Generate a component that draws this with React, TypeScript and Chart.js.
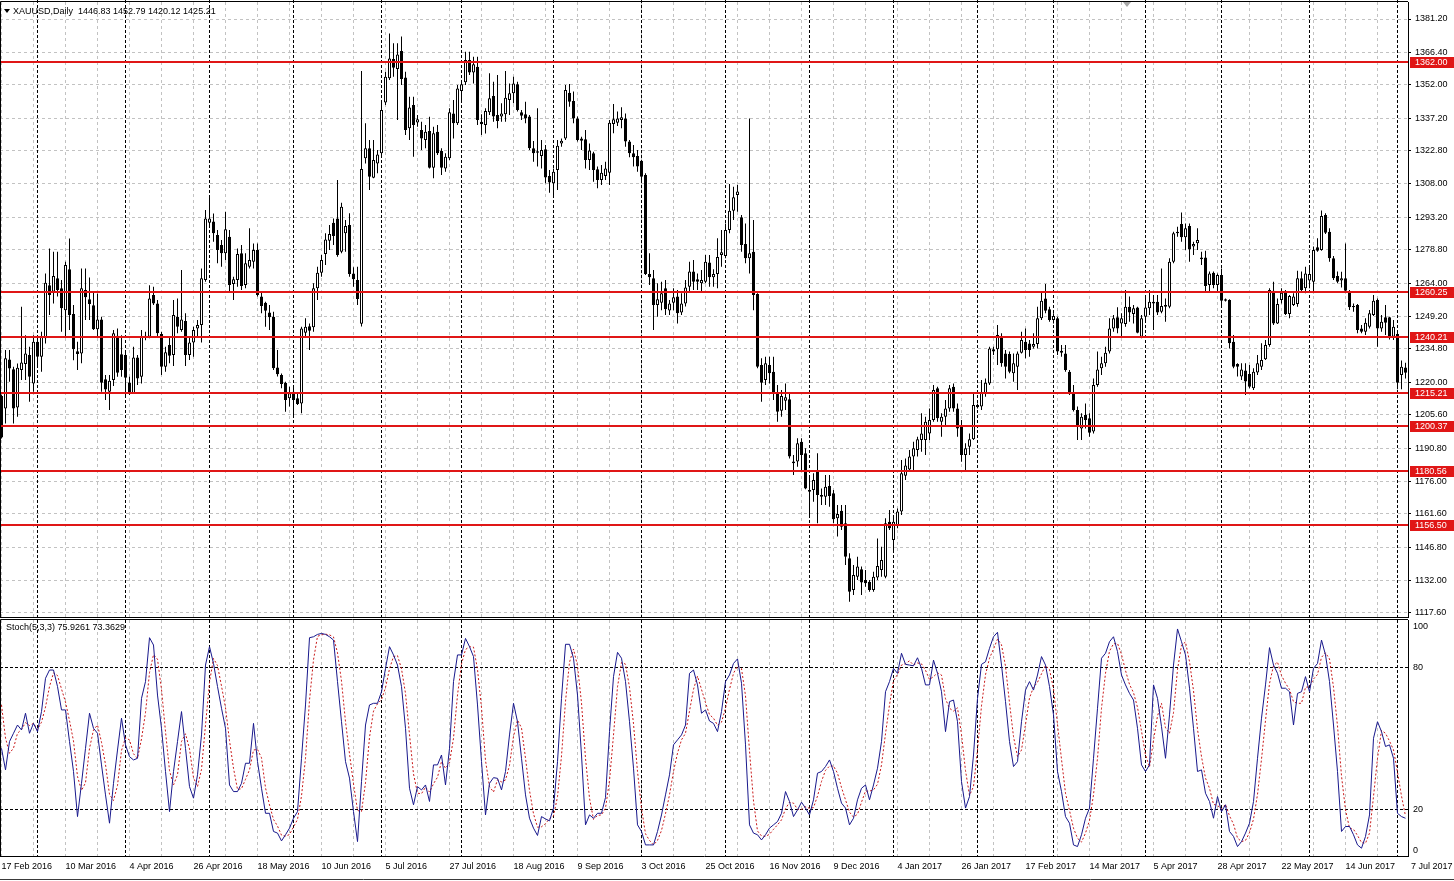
import React, { useEffect, useRef } from 'react';
import { Chart, registerables } from 'chart.js';

Chart.register(...registerables);

// ---------------- DATA ----------------
const opens = [
  1213.9, 1208.4, 1230.1, 1225.8, 1208.8, 1225.4, 1228.1, 1232.1, 1219.5, 1238.0,
  1231.3, 1239.5, 1263.1, 1260.2, 1266.1, 1261.7, 1252.0, 1270.2, 1250.3, 1233.8,
  1232.8, 1260.9, 1256.8, 1254.2, 1243.5, 1247.9, 1221.3, 1215.8, 1221.0, 1240.6,
  1232.4, 1232.1, 1219.9, 1215.1, 1231.0, 1222.4, 1240.6, 1240.2, 1258.7, 1255.0,
  1241.4, 1226.9, 1236.5, 1232.1, 1249.1, 1243.2, 1247.2, 1232.1, 1237.6, 1243.9,
  1245.4, 1265.4, 1290.8, 1291.3, 1285.3, 1280.9, 1277.2, 1284.6, 1263.6, 1265.4,
  1277.2, 1263.2, 1271.3, 1273.5, 1278.7, 1258.0, 1255.3, 1250.9, 1249.1, 1226.6,
  1223.2, 1219.8, 1212.9, 1215.8, 1212.9, 1210.6, 1242.0, 1244.9, 1244.4, 1261.7,
  1268.6, 1276.9, 1282.8, 1290.8, 1292.7, 1277.9, 1286.1, 1289.8, 1268.3, 1265.4,
  1246.0, 1319.4, 1323.8, 1310.8, 1317.1, 1321.6, 1344.2, 1354.9, 1363.4, 1359.0,
  1367.0, 1355.2, 1332.7, 1343.0, 1335.3, 1331.9, 1327.5, 1331.5, 1315.2, 1331.2,
  1322.6, 1314.9, 1319.4, 1339.3, 1334.9, 1349.2, 1353.1, 1363.0, 1357.5, 1360.0,
  1335.6, 1334.2, 1339.8, 1347.0, 1338.6, 1337.9, 1338.9, 1345.3, 1348.2, 1352.2,
  1339.8, 1338.9, 1337.9, 1323.8, 1321.9, 1320.4, 1323.4, 1311.5, 1308.3, 1314.2,
  1326.0, 1328.2, 1348.5, 1344.8, 1337.1, 1328.2, 1327.8, 1318.6, 1321.6, 1314.5,
  1309.8, 1311.5, 1313.0, 1334.6, 1335.2, 1336.4, 1337.1, 1326.8, 1321.6, 1320.4,
  1318.3, 1312.0, 1268.0, 1266.1, 1254.3, 1255.3, 1261.7, 1251.8, 1255.3, 1258.0,
  1250.9, 1255.0, 1262.4, 1269.1, 1265.7, 1263.9, 1264.6, 1273.1, 1266.6, 1268.0,
  1276.5, 1276.0, 1287.6, 1296.1, 1303.1, 1293.2, 1281.3, 1275.0, 1277.9, 1259.2,
  1227.6, 1221.0, 1227.6, 1224.7, 1215.1, 1207.4, 1211.8, 1212.4, 1184.8, 1184.8,
  1193.6, 1188.5, 1172.2, 1172.2, 1180.7, 1170.0, 1169.2, 1174.0, 1170.7, 1159.6,
  1163.0, 1157.4, 1141.9, 1127.8, 1133.7, 1137.0, 1132.2, 1131.5, 1127.8, 1133.4,
  1136.7, 1133.7, 1158.1, 1150.0, 1156.6, 1162.6, 1178.5, 1181.3, 1187.0, 1189.9,
  1194.4, 1194.4, 1197.3, 1203.2, 1217.3, 1202.5, 1204.7, 1208.4, 1218.0, 1208.4,
  1201.0, 1187.7, 1191.4, 1194.7, 1209.9, 1209.2, 1215.1, 1219.5, 1234.6, 1234.6,
  1240.2, 1232.8, 1232.5, 1224.0, 1226.9, 1233.1, 1238.0, 1237.2, 1235.8, 1237.0,
  1248.4, 1257.2, 1252.4, 1247.6, 1248.4, 1234.0, 1232.8, 1224.7, 1215.1, 1207.7,
  1199.5, 1205.5, 1204.0, 1198.1, 1218.8, 1226.2, 1228.4, 1233.6, 1243.9, 1248.8,
  1246.1, 1245.8, 1253.5, 1250.3, 1253.2, 1240.2, 1249.1, 1252.8, 1255.0, 1255.7,
  1251.3, 1253.5, 1253.5, 1273.5, 1286.1, 1290.2, 1284.3, 1289.3, 1280.2, 1281.7,
  1275.4, 1275.4, 1263.2, 1268.6, 1263.2, 1267.6, 1256.8, 1256.5, 1238.0, 1228.1,
  1222.5, 1225.2, 1223.7, 1217.3, 1224.3, 1226.9, 1230.2, 1236.5, 1260.6, 1246.1,
  1256.5, 1259.7, 1250.3, 1254.3, 1254.7, 1266.1, 1261.7, 1265.1, 1264.6, 1279.9,
  1278.7, 1294.2, 1286.8, 1275.0, 1267.1, 1265.1, 1266.1, 1260.2, 1253.8, 1254.3,
  1243.9, 1242.4, 1244.6, 1249.8, 1256.5, 1243.9, 1248.8, 1248.8, 1240.2, 1241.4,
  1223.2, 1226.6,
];

const highs = [
  1214.5, 1234.3, 1234.3, 1226.9, 1228.3, 1253.5, 1240.9, 1235.8, 1240.9, 1240.2,
  1242.4, 1268.3, 1279.4, 1277.9, 1277.9, 1265.4, 1273.5, 1283.8, 1254.3, 1238.0,
  1270.5, 1270.5, 1266.5, 1259.7, 1259.4, 1249.1, 1223.2, 1223.2, 1243.2, 1243.9,
  1240.9, 1234.3, 1222.4, 1235.8, 1232.1, 1243.2, 1242.4, 1263.0, 1262.4, 1256.5,
  1242.4, 1235.8, 1240.2, 1256.5, 1257.2, 1269.8, 1250.6, 1240.2, 1244.6, 1247.6,
  1270.5, 1296.4, 1303.1, 1294.9, 1287.6, 1283.1, 1295.7, 1287.6, 1266.8, 1279.4,
  1280.9, 1277.2, 1288.3, 1281.6, 1281.6, 1260.2, 1255.7, 1254.3, 1251.3, 1234.3,
  1223.9, 1220.2, 1218.0, 1218.8, 1215.1, 1244.6, 1248.4, 1246.1, 1263.9, 1271.3,
  1276.5, 1286.1, 1289.8, 1292.7, 1309.8, 1299.7, 1292.0, 1295.0, 1271.0, 1271.3,
  1358.1, 1334.9, 1327.5, 1327.5, 1323.1, 1345.3, 1357.8, 1374.8, 1370.4, 1370.4,
  1373.4, 1357.8, 1346.7, 1346.7, 1338.6, 1335.6, 1334.2, 1337.8, 1333.4, 1334.2,
  1323.8, 1321.6, 1341.6, 1345.3, 1351.9, 1354.1, 1366.7, 1366.7, 1364.5, 1364.5,
  1338.9, 1341.6, 1357.1, 1353.4, 1356.3, 1343.8, 1358.1, 1352.6, 1355.6, 1353.4,
  1340.8, 1344.5, 1338.6, 1327.1, 1341.6, 1327.5, 1325.3, 1314.2, 1314.9, 1327.5,
  1328.2, 1351.9, 1352.4, 1349.0, 1337.9, 1329.0, 1331.9, 1326.0, 1322.3, 1315.7,
  1316.4, 1317.9, 1336.4, 1343.5, 1340.1, 1342.0, 1339.3, 1327.5, 1325.3, 1323.1,
  1318.6, 1312.7, 1277.2, 1269.8, 1263.9, 1264.6, 1265.4, 1256.5, 1261.7, 1260.9,
  1259.5, 1265.4, 1273.5, 1274.2, 1268.3, 1269.8, 1276.5, 1276.5, 1270.1, 1283.9,
  1287.6, 1290.5, 1308.0, 1306.8, 1307.5, 1294.2, 1290.5, 1337.1, 1292.0, 1259.5,
  1230.6, 1231.3, 1231.3, 1231.3, 1218.8, 1216.6, 1219.5, 1215.1, 1187.7, 1195.1,
  1195.1, 1190.7, 1178.8, 1179.6, 1188.5, 1172.9, 1178.8, 1178.8, 1172.2, 1165.5,
  1165.5, 1165.5, 1144.1, 1138.9, 1142.6, 1138.2, 1136.7, 1132.2, 1135.9, 1150.7,
  1147.0, 1159.6, 1163.3, 1161.1, 1164.0, 1185.5, 1186.2, 1189.9, 1193.6, 1195.8,
  1206.2, 1204.7, 1208.4, 1218.8, 1218.0, 1206.2, 1212.1, 1218.8, 1219.5, 1210.6,
  1203.2, 1192.9, 1197.3, 1215.1, 1210.6, 1221.0, 1221.7, 1235.8, 1235.8, 1245.4,
  1241.7, 1234.3, 1233.6, 1232.8, 1233.6, 1242.4, 1243.9, 1238.7, 1241.7, 1253.5,
  1260.2, 1263.6, 1253.5, 1250.6, 1249.1, 1236.5, 1236.5, 1225.4, 1218.8, 1209.2,
  1206.2, 1210.6, 1206.2, 1221.7, 1233.6, 1231.3, 1235.8, 1248.4, 1249.8, 1253.3,
  1250.6, 1260.9, 1258.0, 1254.3, 1253.5, 1249.8, 1258.7, 1260.9, 1258.7, 1258.7,
  1270.5, 1257.2, 1275.0, 1286.8, 1289.0, 1295.3, 1290.5, 1290.5, 1282.4, 1288.3,
  1277.9, 1278.4, 1269.1, 1269.1, 1268.3, 1270.5, 1257.2, 1256.8, 1241.0, 1228.4,
  1228.4, 1228.4, 1227.6, 1226.2, 1232.1, 1237.3, 1238.7, 1261.7, 1264.6, 1257.2,
  1261.7, 1260.9, 1258.7, 1259.5, 1269.5, 1269.1, 1271.3, 1271.3, 1280.2, 1283.9,
  1296.2, 1295.0, 1288.3, 1276.0, 1269.1, 1269.0, 1281.6, 1260.9, 1255.0, 1254.7,
  1245.4, 1248.4, 1252.1, 1258.7, 1257.2, 1249.8, 1254.3, 1249.1, 1247.6, 1242.0,
  1229.6, 1228.7,
];

const lows = [
  1195.0, 1201.7, 1220.2, 1201.7, 1204.7, 1221.0, 1221.0, 1211.4, 1215.8, 1226.9,
  1224.7, 1237.2, 1249.8, 1255.0, 1258.0, 1242.4, 1240.2, 1243.2, 1229.8, 1225.4,
  1228.4, 1247.6, 1247.6, 1243.2, 1240.2, 1215.8, 1212.1, 1207.7, 1218.3, 1222.4,
  1222.4, 1214.3, 1214.3, 1214.8, 1218.8, 1219.5, 1238.6, 1239.5, 1254.3, 1240.2,
  1223.2, 1224.7, 1228.4, 1227.2, 1241.7, 1242.4, 1227.2, 1229.9, 1231.3, 1240.2,
  1237.6, 1264.6, 1289.5, 1282.4, 1272.8, 1271.3, 1274.2, 1260.2, 1256.5, 1262.4,
  1260.9, 1261.7, 1270.5, 1270.5, 1258.0, 1250.6, 1244.6, 1243.2, 1225.4, 1222.5,
  1217.3, 1206.9, 1209.2, 1205.5, 1209.9, 1206.2, 1240.2, 1234.3, 1242.4, 1256.5,
  1266.8, 1272.0, 1278.7, 1280.9, 1275.7, 1277.2, 1277.9, 1266.8, 1262.4, 1254.3,
  1244.7, 1317.1, 1305.3, 1310.5, 1312.7, 1320.1, 1343.0, 1354.1, 1355.6, 1336.4,
  1351.9, 1329.7, 1327.5, 1320.1, 1333.4, 1323.1, 1323.8, 1314.9, 1310.5, 1320.8,
  1312.0, 1313.4, 1318.6, 1328.2, 1334.2, 1345.3, 1351.9, 1356.3, 1352.6, 1334.2,
  1329.7, 1330.4, 1338.6, 1335.6, 1332.7, 1335.6, 1335.6, 1338.6, 1343.8, 1340.1,
  1336.4, 1334.9, 1323.1, 1317.9, 1315.7, 1314.9, 1308.3, 1304.1, 1302.4, 1305.3,
  1324.5, 1327.5, 1342.3, 1334.9, 1326.8, 1323.1, 1314.9, 1314.2, 1309.0, 1306.1,
  1307.5, 1309.8, 1307.5, 1330.5, 1333.7, 1332.7, 1324.5, 1319.8, 1315.7, 1313.4,
  1309.8, 1267.6, 1263.2, 1243.2, 1249.1, 1252.0, 1249.8, 1249.8, 1252.0, 1246.1,
  1249.8, 1253.6, 1260.2, 1260.9, 1260.9, 1260.2, 1263.9, 1262.4, 1262.4, 1261.7,
  1271.3, 1275.0, 1286.1, 1292.0, 1295.7, 1277.9, 1272.8, 1268.3, 1252.0, 1226.2,
  1211.4, 1218.8, 1219.5, 1212.1, 1202.5, 1204.7, 1207.7, 1186.2, 1178.8, 1182.5,
  1181.0, 1172.5, 1160.3, 1167.0, 1157.4, 1165.5, 1165.5, 1164.8, 1157.4, 1151.5,
  1154.4, 1138.9, 1122.6, 1125.6, 1132.2, 1125.6, 1129.3, 1127.0, 1127.0, 1132.2,
  1133.7, 1133.0, 1154.4, 1144.8, 1155.2, 1161.1, 1176.6, 1181.0, 1181.0, 1187.0,
  1189.2, 1187.7, 1194.4, 1202.5, 1202.5, 1195.8, 1200.3, 1206.9, 1206.9, 1195.8,
  1184.7, 1181.0, 1187.7, 1194.4, 1208.4, 1207.7, 1213.6, 1218.8, 1232.1, 1227.6,
  1226.9, 1221.7, 1224.0, 1220.2, 1216.6, 1232.8, 1230.6, 1231.3, 1235.0, 1235.0,
  1247.6, 1250.6, 1246.9, 1246.1, 1232.1, 1231.3, 1224.7, 1214.3, 1207.0, 1194.4,
  1194.4, 1199.5, 1195.8, 1197.3, 1218.0, 1223.2, 1226.9, 1232.8, 1242.4, 1241.7,
  1240.5, 1244.6, 1246.9, 1246.1, 1241.7, 1239.5, 1247.6, 1249.8, 1243.2, 1249.8,
  1250.6, 1246.9, 1252.8, 1272.8, 1284.6, 1282.4, 1278.7, 1273.5, 1276.5, 1278.7,
  1272.0, 1260.2, 1260.2, 1261.7, 1260.2, 1253.8, 1255.8, 1235.0, 1226.2, 1222.5,
  1221.0, 1214.3, 1217.3, 1216.6, 1223.2, 1225.4, 1229.9, 1235.8, 1245.4, 1245.8,
  1255.0, 1249.8, 1248.4, 1253.8, 1253.5, 1260.2, 1259.5, 1261.7, 1259.5, 1277.9,
  1278.4, 1285.8, 1273.5, 1265.4, 1263.9, 1262.0, 1259.5, 1252.1, 1251.3, 1241.7,
  1241.7, 1241.0, 1243.9, 1249.4, 1235.8, 1242.4, 1241.0, 1239.0, 1238.7, 1216.9,
  1216.9, 1221.7,
];

const closes = [
  1195.5, 1230.6, 1226.1, 1208.4, 1226.4, 1228.8, 1232.8, 1222.4, 1238.0, 1231.3,
  1240.2, 1264.2, 1258.7, 1267.1, 1260.9, 1252.8, 1272.0, 1249.8, 1234.6, 1232.5,
  1261.7, 1257.7, 1254.7, 1243.5, 1247.9, 1219.8, 1216.8, 1220.7, 1241.7, 1224.2,
  1225.4, 1222.0, 1215.1, 1231.0, 1221.7, 1240.2, 1239.8, 1257.2, 1255.0, 1241.7,
  1226.9, 1233.3, 1231.8, 1249.8, 1244.6, 1247.9, 1232.1, 1237.6, 1243.2, 1245.4,
  1266.1, 1292.7, 1292.7, 1286.1, 1278.7, 1277.2, 1287.9, 1263.2, 1265.7, 1276.9,
  1262.7, 1272.8, 1274.2, 1278.7, 1258.7, 1253.8, 1251.7, 1248.8, 1226.2, 1223.6,
  1219.2, 1212.1, 1215.1, 1212.1, 1210.3, 1243.9, 1244.6, 1242.9, 1261.7, 1268.6,
  1274.2, 1283.4, 1285.8, 1284.9, 1276.5, 1297.9, 1289.3, 1268.0, 1265.7, 1257.0,
  1314.6, 1323.8, 1311.2, 1318.6, 1321.1, 1340.8, 1355.6, 1363.7, 1359.6, 1365.5,
  1354.6, 1331.9, 1341.9, 1334.2, 1336.7, 1328.2, 1331.2, 1315.2, 1330.5, 1321.6,
  1315.2, 1320.1, 1339.8, 1334.9, 1350.4, 1352.2, 1363.0, 1357.5, 1361.1, 1336.4,
  1334.5, 1340.4, 1346.0, 1337.9, 1335.9, 1339.3, 1346.3, 1348.2, 1352.6, 1340.8,
  1338.3, 1337.1, 1323.8, 1321.6, 1322.5, 1323.1, 1310.9, 1308.6, 1313.4, 1324.9,
  1327.2, 1349.7, 1344.5, 1337.1, 1327.5, 1327.2, 1318.6, 1322.8, 1314.2, 1309.8,
  1313.0, 1314.9, 1335.2, 1336.7, 1337.1, 1337.6, 1326.8, 1321.6, 1319.8, 1315.7,
  1311.2, 1268.0, 1266.6, 1254.3, 1256.8, 1259.5, 1252.4, 1255.0, 1257.7, 1250.6,
  1255.0, 1262.1, 1269.1, 1264.6, 1264.6, 1265.4, 1273.5, 1266.6, 1268.0, 1275.6,
  1277.7, 1287.6, 1296.1, 1302.1, 1304.6, 1280.9, 1275.0, 1277.2, 1258.7, 1226.9,
  1219.8, 1228.4, 1224.0, 1215.1, 1206.9, 1213.9, 1213.3, 1187.0, 1184.0, 1192.9,
  1187.7, 1172.9, 1171.4, 1176.6, 1170.0, 1169.2, 1173.6, 1169.5, 1159.2, 1161.5,
  1155.9, 1142.6, 1127.0, 1134.5, 1138.2, 1131.1, 1130.8, 1127.8, 1133.7, 1138.5,
  1141.1, 1157.4, 1155.2, 1158.1, 1162.6, 1179.6, 1183.0, 1187.0, 1190.7, 1194.7,
  1197.3, 1202.5, 1203.2, 1216.6, 1204.0, 1204.7, 1208.4, 1217.3, 1208.4, 1199.5,
  1187.7, 1190.7, 1194.7, 1209.9, 1208.9, 1215.4, 1219.8, 1235.0, 1233.6, 1241.0,
  1228.4, 1226.9, 1224.7, 1228.4, 1232.8, 1238.7, 1234.3, 1234.3, 1237.0, 1248.4,
  1256.2, 1251.7, 1247.6, 1249.4, 1233.6, 1233.1, 1225.4, 1214.8, 1207.7, 1200.8,
  1204.7, 1203.2, 1197.6, 1218.8, 1225.7, 1228.4, 1233.1, 1243.9, 1248.4, 1243.9,
  1248.4, 1253.5, 1250.9, 1252.8, 1242.0, 1248.4, 1253.2, 1255.7, 1255.7, 1250.9,
  1253.8, 1254.3, 1273.5, 1286.1, 1286.8, 1284.3, 1288.3, 1279.0, 1281.4, 1283.1,
  1274.6, 1262.7, 1268.3, 1263.2, 1267.6, 1256.2, 1256.2, 1237.3, 1226.9, 1226.9,
  1225.7, 1220.3, 1218.0, 1224.7, 1228.4, 1229.9, 1236.5, 1260.9, 1246.1, 1254.7,
  1259.7, 1250.3, 1258.3, 1258.0, 1266.1, 1260.9, 1268.3, 1268.0, 1278.7, 1278.4,
  1293.8, 1286.4, 1275.0, 1266.1, 1264.6, 1266.1, 1260.6, 1253.3, 1253.3, 1243.2,
  1242.4, 1246.4, 1250.6, 1256.2, 1243.9, 1246.9, 1246.4, 1240.2, 1244.6, 1219.8,
  1226.9, 1224.2,
];

const stochMain = [
  45.6, 36.5, 48.5, 52, 55.5, 53.4, 60.5, 52, 56.2, 52.7,
  61.2, 75.3, 78.8, 78.8, 71.8, 61.9, 61.9, 48.5, 35.8, 16.7,
  30.8, 45.6, 60.5, 54.1, 52, 38.6, 25.9, 13.9, 30.8, 44.9,
  58.4, 47.1, 42.1, 40.7, 41.4, 66.8, 73.9, 92.5, 89.4, 68.2,
  54.1, 35.8, 18.8, 35.8, 48.5, 61.2, 45.6, 29.4, 24.5, 34.4,
  51.3, 80.9, 88.7, 81.6, 71.8, 62.6, 54.1, 30.1, 27.3, 27.3,
  30.8, 39.3, 39.3, 56.2, 40, 28.7, 18.1, 18.1, 10.4, 9.7,
  6.4, 9, 11.8, 16, 18.8, 41.4, 64, 92.5, 92.9, 93.9,
  94.3, 93.9, 92.9, 91.5, 73.9, 56.9, 40, 33, 18.8, 6.1,
  31.5, 55.5, 64, 64.7, 64.7, 69.6, 79.5, 88.7, 85.2, 80.9,
  71.8, 54.1, 28.7, 21.7, 29.4, 28, 30.1, 23.1, 38.6, 38.6,
  42.8, 30.1, 45.6, 73.9, 85.2, 85.2, 92.2, 88.7, 84.5, 64,
  40, 17.4, 30.8, 33.2, 32.9, 28, 35.8, 51.3, 64.7, 56.9,
  41.4, 25.9, 16, 11.8, 8.7, 16.7, 15.7, 14.9, 20.3, 40,
  66.8, 89.7, 89.7, 83.8, 68.2, 42.8, 13.2, 17.4, 16, 18.1,
  18.1, 24.8, 52.7, 76, 86.3, 83.8, 73.9, 56.9, 37.2, 13.2,
  10.4, 4.7, 4.7, 4.7, 10.4, 17.4, 25.9, 34.4, 47.1, 49.2,
  51.3, 55.5, 77.4, 78.8, 72.5, 60.5, 61.9, 57.2, 56.2, 52.7,
  61.2, 73.9, 76.7, 81.6, 83.5, 73.2, 47.1, 13.2, 9.7, 9,
  6.8, 9, 11.8, 13.2, 14.6, 18.1, 27.3, 23.1, 16.7, 19.5,
  22.8, 20.3, 17.4, 23.8, 35.1, 35.8, 37.9, 40.7, 35.8, 28.7,
  22.4, 20.3, 13.2, 16, 23.8, 28.7, 30.1, 23.8, 30.1, 37.2,
  48.5, 69.6, 73.9, 79.5, 77.4, 85.9, 81.2, 80.9, 80.6, 84,
  79.5, 72.5, 72.5, 83, 77.4, 69.6, 52.7, 65.4, 66.1, 56.9,
  31.5, 20.3, 25.2, 42.8, 66.8, 81.2, 82.3, 88, 92.9, 94.8,
  80.9, 65.4, 48.5, 37.9, 40, 56.9, 70.3, 73.9, 70.3, 76.7,
  84.5, 80.9, 71.8, 59.8, 35.8, 27.3, 16.7, 13.9, 4.7, 4,
  9, 16, 20.3, 41.4, 62.6, 83.8, 85.9, 90.8, 92.9, 86.6,
  76.7, 72.5, 68.9, 66.1, 54.1, 38.6, 35.8, 38.6, 72.5, 66.8,
  54.8, 41.4, 59.8, 80.9, 96.2, 90.8, 85.2, 71.1, 54.1, 35.8,
  36.5, 26.6, 23.1, 16, 25.2, 18.8, 21.7, 10.4, 8.3, 4,
  6.1, 9.7, 13.9, 23.1, 41.4, 58.4, 72.5, 88.3, 80.9, 77.4,
  71.1, 71.1, 69.6, 55.5, 68.9, 69.6, 76, 69.6, 79.5, 81.6,
  91.5, 85.2, 73.9, 55.5, 35.8, 10.4, 12.5, 12.5, 9, 4.7,
  3.3, 8.3, 17.4, 49.9, 56.9, 52.7, 46.4, 47.1, 41.4, 18.1,
  16.7, 16,
];

const stochSignal = [
  64, 50, 43.5, 45.7, 52, 53.6, 56.5, 55.3, 56.2, 53.6,
  56.7, 63.1, 71.8, 77.6, 76.5, 70.8, 65.2, 57.4, 48.7, 33.7,
  27.8, 31, 45.6, 53.4, 55.5, 48.2, 38.8, 26.1, 23.5, 29.9,
  44.7, 50.1, 49.2, 43.3, 41.4, 49.6, 60.7, 77.7, 85.3, 83.4,
  70.6, 52.7, 36.2, 30.1, 34.4, 48.5, 51.8, 45.4, 33.2, 29.4,
  36.7, 55.5, 73.6, 83.7, 80.7, 72, 62.8, 48.9, 37.2, 28.2,
  28.5, 32.5, 36.5, 44.9, 45.2, 41.6, 28.9, 21.6, 15.5, 12.7,
  8.8, 8.4, 9.1, 12.3, 15.5, 25.4, 41.4, 66, 83.1, 93.1,
  93.7, 94, 93.7, 92.8, 86.1, 74.1, 56.9, 43.3, 30.6, 19.3,
  18.8, 31, 50.3, 61.4, 64.5, 66.3, 71.3, 79.3, 84.5, 84.9,
  79.3, 68.9, 51.5, 34.8, 26.6, 26.4, 29.2, 27.1, 30.6, 33.4,
  40, 37.2, 39.5, 49.9, 68.2, 81.4, 87.5, 88.7, 88.5, 79.1,
  62.8, 40.5, 29.4, 27.1, 32.3, 31.4, 32.2, 38.4, 50.6, 57.6,
  54.3, 41.4, 27.8, 17.9, 12.2, 12.4, 13.7, 15.8, 17, 25.1,
  42.4, 65.5, 82.1, 87.7, 80.6, 64.9, 41.4, 24.5, 15.5, 17.2,
  17.4, 20.3, 31.9, 51.2, 71.7, 82, 81.3, 71.5, 56, 35.8,
  20.3, 9.4, 6.6, 4.7, 6.6, 10.8, 17.9, 25.9, 35.8, 43.6,
  49.2, 52, 61.4, 70.6, 76.2, 70.6, 65, 59.9, 58.4, 55.4,
  56.7, 62.6, 70.6, 77.4, 80.6, 79.4, 67.9, 44.5, 23.3, 10.6,
  8.5, 8.3, 9.2, 11.3, 13.2, 15.3, 20, 22.8, 22.4, 19.8,
  19.7, 20.9, 20.2, 20.5, 25.4, 31.6, 36.3, 38.1, 38.1, 35.1,
  29, 23.8, 18.6, 16.5, 17.7, 22.8, 27.5, 27.5, 28, 30.4,
  38.6, 51.8, 64, 74.3, 76.9, 80.9, 81.5, 82.7, 80.9, 81.8,
  81.4, 78.7, 74.8, 76, 77.6, 76.7, 66.6, 62.6, 61.4, 62.8,
  51.5, 36.2, 25.7, 29.4, 44.9, 63.6, 76.8, 83.8, 87.7, 91.9,
  89.5, 80.4, 64.9, 50.6, 42.1, 44.9, 55.7, 67, 71.5, 73.6,
  77.2, 80.7, 79.1, 70.8, 55.8, 41, 26.6, 19.3, 11.8, 7.5,
  5.9, 9.7, 15.1, 25.9, 41.4, 62.6, 77.4, 86.8, 89.9, 90.1,
  85.4, 78.6, 72.7, 69.2, 63, 52.9, 42.8, 37.7, 49, 59.3,
  64.7, 54.3, 52, 60.7, 79, 89.3, 90.7, 82.4, 70.1, 53.7,
  42.1, 33, 28.7, 21.9, 21.4, 20, 21.9, 17, 13.5, 7.6,
  6.1, 6.6, 9.9, 15.6, 26.1, 41, 57.4, 73.1, 80.6, 82.2,
  76.5, 73.2, 70.6, 65.4, 64.7, 64.7, 71.5, 71.7, 75, 76.9,
  84.2, 86.1, 83.5, 71.5, 55.1, 33.9, 19.6, 11.8, 11.3, 8.7,
  5.7, 5.4, 9.7, 25.2, 41.4, 53.2, 52, 48.7, 45, 35.5,
  25.4, 16.9,
];

// date labels every 16 bars (bar 0, 16, 32, ...)
const dateLabels = [
  '17 Feb 2016', '10 Mar 2016', '4 Apr 2016', '26 Apr 2016', '18 May 2016', '10 Jun 2016',
  '5 Jul 2016', '27 Jul 2016', '18 Aug 2016', '9 Sep 2016', '3 Oct 2016', '25 Oct 2016',
  '16 Nov 2016', '9 Dec 2016', '4 Jan 2017', '26 Jan 2017', '17 Feb 2017', '14 Mar 2017',
  '5 Apr 2017', '28 Apr 2017', '22 May 2017', '14 Jun 2017',
];
const lastDateLabel = '7 Jul 2017';

const priceTicks = [
  1381.2, 1366.4, 1352.0, 1337.2, 1322.8, 1308.0, 1293.2, 1278.8, 1264.0, 1249.2,
  1234.8, 1220.0, 1205.6, 1190.8, 1176.0, 1161.6, 1146.8, 1132.0, 1117.6,
];

const levels = [1362.0, 1260.25, 1240.21, 1215.21, 1200.37, 1180.56, 1156.5];

// bar index of the first bar of each month (period separators)
const monthStarts = [9, 31, 52, 73, 95, 115, 138, 160, 181, 202, 223, 244, 263, 286, 305, 327, 349];

const stochLevels = [80, 20];
const stochAxisLabels = ['100', '80', '20', '0'];

const headerText = 'XAUUSD,Daily  1446.83 1452.79 1420.12 1425.21';
const stochText = 'Stoch(5,3,3) 75.9261 73.3629';

// ---------------- STYLE ----------------
const FONT_FAMILY = '"Liberation Sans", Arial, sans-serif';
const FONT = `9px ${FONT_FAMILY}`;
const GRID_COLOR = '#c2c2c2';
const LEVEL_RED = '#e01616';
const BAR_COUNT = closes.length;
const X_MIN = -0.375;
const X_MAX = BAR_COUNT - 0.375;
const Y_MIN = 1115.82;
const Y_MAX = 1388.75;

const gridTicks: number[] = [];
for (let i = 0; i < BAR_COUNT; i += 8) gridTicks.push(i);

function drawSeparators(chart: any, top: number, bottom: number) {
  const { ctx, scales } = chart;
  ctx.save();
  ctx.strokeStyle = '#000';
  ctx.lineWidth = 1;
  ctx.setLineDash([3, 2]);
  for (const m of monthStarts) {
    const px = Math.round(scales.x.getPixelForValue(m) - 0.5) + 0.5;
    ctx.beginPath();
    ctx.moveTo(px, top);
    ctx.lineTo(px, bottom);
    ctx.stroke();
  }
  ctx.restore();
}

const mainPlugin = {
  id: 'mainDecor',
  beforeDatasetsDraw(chart: any) {
    drawSeparators(chart, 0, chart.chartArea.bottom);
  },
  afterDatasetsDraw(chart: any) {
    const { ctx, chartArea: a, scales } = chart;
    ctx.save();
    ctx.font = FONT;
    ctx.textAlign = 'left';
    ctx.textBaseline = 'middle';
    for (const lv of levels) {
      const py = Math.round(scales.y.getPixelForValue(lv));
      ctx.fillStyle = LEVEL_RED;
      ctx.fillRect(a.left, py - 1, a.right - a.left, 2);
      ctx.fillRect(a.right + 2, py - 5, chart.width - a.right - 2, 11);
      ctx.fillStyle = '#ffffff';
      ctx.fillText(lv.toFixed(2), a.right + 7, py + 0.5);
    }
    ctx.restore();
  },
  afterDraw(chart: any) {
    const { ctx, chartArea: a } = chart;
    ctx.save();
    // frame
    ctx.strokeStyle = '#000';
    ctx.lineWidth = 1;
    ctx.beginPath();
    ctx.moveTo(0.5, a.top - 0.5);
    ctx.lineTo(a.right, a.top - 0.5);
    ctx.moveTo(0.5, a.top - 0.5);
    ctx.lineTo(0.5, a.bottom + 0.5);
    ctx.moveTo(0, a.bottom + 0.5);
    ctx.lineTo(a.right, a.bottom + 0.5);
    ctx.stroke();
    // header
    ctx.fillStyle = '#000';
    ctx.beginPath();
    ctx.moveTo(4, 9);
    ctx.lineTo(10, 9);
    ctx.lineTo(7, 13);
    ctx.closePath();
    ctx.fill();
    ctx.font = FONT;
    ctx.textAlign = 'left';
    ctx.textBaseline = 'middle';
    ctx.fillText(headerText, 13, 11.5);
    // chart shift marker
    ctx.fillStyle = '#a8a8a8';
    ctx.beginPath();
    ctx.moveTo(1123, 2);
    ctx.lineTo(1131, 2);
    ctx.lineTo(1127, 7);
    ctx.closePath();
    ctx.fill();
    ctx.restore();
  },
};

const stochPlugin = {
  id: 'stochDecor',
  beforeDatasetsDraw(chart: any) {
    const { ctx, chartArea: a, scales } = chart;
    drawSeparators(chart, a.top, a.bottom);
    ctx.save();
    ctx.strokeStyle = '#000';
    ctx.lineWidth = 1;
    ctx.setLineDash([3, 2]);
    for (const lv of stochLevels) {
      const py = Math.round(scales.y.getPixelForValue(lv)) + 0.5;
      ctx.beginPath();
      ctx.moveTo(a.left, py);
      ctx.lineTo(a.right, py);
      ctx.stroke();
    }
    ctx.restore();
  },
  afterDraw(chart: any) {
    const { ctx, chartArea: a, scales } = chart;
    ctx.save();
    ctx.strokeStyle = '#000';
    ctx.lineWidth = 1;
    ctx.beginPath();
    ctx.moveTo(0.5, a.top - 0.5);
    ctx.lineTo(a.right, a.top - 0.5);
    ctx.moveTo(0.5, a.top - 0.5);
    ctx.lineTo(0.5, a.bottom + 0.5);
    ctx.stroke();
    ctx.strokeStyle = '#3a3a3a';
    ctx.beginPath();
    ctx.moveTo(0, chart.height - 1.5);
    ctx.lineTo(chart.width, chart.height - 1.5);
    ctx.stroke();

    ctx.fillStyle = '#000';
    ctx.font = FONT;
    ctx.textAlign = 'left';
    ctx.textBaseline = 'middle';
    ctx.fillText(stochText, 6, 10);
    const ys = [a.top + 6, scales.y.getPixelForValue(80), scales.y.getPixelForValue(20), a.bottom - 5.5];
    stochAxisLabels.forEach((t, i) => ctx.fillText(t, a.right + 5, ys[i] + 0.5));
    ctx.fillText(lastDateLabel, a.right + 3, a.bottom + 10.5);
    ctx.restore();
  },
};

export default function App() {
  const mainRef = useRef<HTMLCanvasElement>(null);
  const stochRef = useRef<HTMLCanvasElement>(null);

  useEffect(() => {
    const wickData = highs.map((h, i) => ({ x: i, y: [lows[i], h] }));
    const bodyData = opens.map((o, i) => ({ x: i, y: [Math.min(o, closes[i]), Math.max(o, closes[i])] }));
    const bodyColors = opens.map((o, i) => (closes[i] >= o ? '#ffffff' : '#000000'));

    const main = new Chart(mainRef.current as HTMLCanvasElement, {
      type: 'bar',
      data: {
        datasets: [
          {
            data: bodyData as any,
            backgroundColor: bodyColors,
            borderColor: '#000000',
            borderWidth: 1,
            borderSkipped: false,
            barThickness: 3,
            grouped: false,
            inflateAmount: 0,
            order: 0,
          } as any,
          {
            data: wickData as any,
            backgroundColor: '#000000',
            borderWidth: 0,
            barThickness: 1,
            grouped: false,
            inflateAmount: 0,
            order: 1,
          } as any,
        ],
      },
      options: {
        animation: false,
        responsive: false,
        maintainAspectRatio: false,
        devicePixelRatio: 1,
        events: [],
        layout: { padding: { top: 2, left: 0, right: 0, bottom: 0 } },
        plugins: { legend: { display: false }, tooltip: { enabled: false } },
        scales: {
          x: {
            type: 'linear',
            min: X_MIN,
            max: X_MAX,
            offset: false,
            afterBuildTicks: (s: any) => {
              s.ticks = gridTicks.map((v) => ({ value: v }));
            },
            ticks: { display: false },
            grid: { color: GRID_COLOR, lineWidth: 1, drawTicks: false, offset: false },
            border: { display: false, dash: [3, 3] },
            afterFit: (s: any) => {
              s.height = 1;
              s.paddingLeft = 0;
              s.paddingRight = 0;
            },
          },
          y: {
            type: 'linear',
            position: 'right',
            min: Y_MIN,
            max: Y_MAX,
            afterBuildTicks: (s: any) => {
              s.ticks = priceTicks.map((v) => ({ value: v }));
            },
            ticks: {
              color: '#000',
              font: { family: FONT_FAMILY, size: 9 },
              padding: 4,
              callback: (v: any) => Number(v).toFixed(2),
            },
            grid: { color: GRID_COLOR, lineWidth: 1, drawTicks: true, tickLength: 3, tickColor: '#000' },
            border: { display: true, color: '#000', dash: [3, 3] },
            afterFit: (s: any) => {
              s.width = 46;
              s.paddingTop = 0;
              s.paddingBottom = 0;
            },
          },
        },
      } as any,
      plugins: [mainPlugin],
    });

    const stoch = new Chart(stochRef.current as HTMLCanvasElement, {
      type: 'line',
      data: {
        datasets: [
          {
            data: stochMain.map((v, i) => ({ x: i, y: v })),
            borderColor: '#18188c',
            borderWidth: 1,
            pointRadius: 0,
            tension: 0,
            order: 0,
          },
          {
            data: stochSignal.map((v, i) => ({ x: i, y: v })),
            borderColor: '#c81818',
            borderWidth: 1,
            borderDash: [2, 2],
            pointRadius: 0,
            tension: 0,
            order: 1,
          },
        ],
      },
      options: {
        animation: false,
        responsive: false,
        maintainAspectRatio: false,
        devicePixelRatio: 1,
        events: [],
        layout: { padding: { top: 2, left: 0, right: 0, bottom: 0 } },
        plugins: { legend: { display: false }, tooltip: { enabled: false } },
        scales: {
          x: {
            type: 'linear',
            min: X_MIN,
            max: X_MAX,
            offset: false,
            afterBuildTicks: (s: any) => {
              s.ticks = gridTicks.map((v) => ({ value: v }));
            },
            ticks: {
              autoSkip: false,
              maxRotation: 0,
              minRotation: 0,
              align: 'start',
              padding: 5,
              color: '#000',
              font: { family: FONT_FAMILY, size: 9 },
              callback: (v: any) => (Number(v) % 16 === 0 ? dateLabels[Number(v) / 16] || '' : ''),
            },
            grid: { color: GRID_COLOR, lineWidth: 1, drawTicks: false, offset: false },
            border: { display: true, color: '#000', dash: [3, 3] },
            afterFit: (s: any) => {
              s.height = 25;
              s.paddingLeft = 0;
              s.paddingRight = 0;
            },
          },
          y: {
            type: 'linear',
            position: 'right',
            min: 0,
            max: 100,
            ticks: { display: false },
            grid: { display: false },
            border: { display: true, color: '#000' },
            afterFit: (s: any) => {
              s.width = 46;
              s.paddingTop = 0;
              s.paddingBottom = 0;
            },
          },
        },
      } as any,
      plugins: [stochPlugin],
    });

    return () => {
      main.destroy();
      stoch.destroy();
    };
  }, []);

  return (
    <div style={{ position: 'absolute', left: 0, top: 0, width: 1454, height: 881, background: '#ffffff', overflow: 'hidden' }}>
      <canvas
        ref={mainRef}
        width={1454}
        height={618}
        style={{ position: 'absolute', left: 0, top: 0, width: 1454, height: 618 }}
      />
      <canvas
        ref={stochRef}
        width={1454}
        height={263}
        style={{ position: 'absolute', left: 0, top: 618, width: 1454, height: 263 }}
      />
    </div>
  );
}
